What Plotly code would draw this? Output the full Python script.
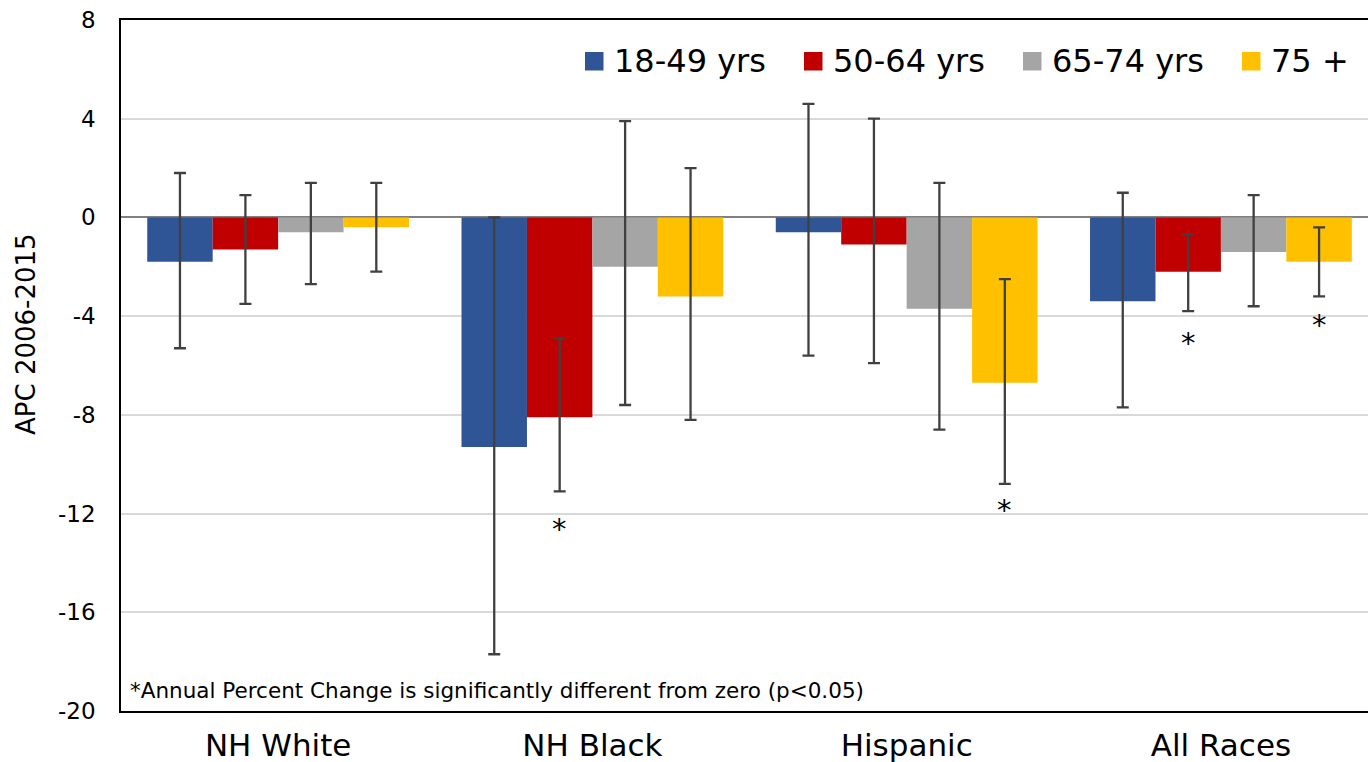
import plotly.graph_objects as go

# Annual percent change (APC) 2006-2015 by race/ethnicity and age group
groups = ["NH White", "NH Black", "Hispanic", "All Races"]
age_groups = ["18-49 yrs", "50-64 yrs", "65-74 yrs", "75 +"]

apc_18_49 = [-1.8, -9.3, -0.6, -3.4]
apc_50_64 = [-1.3, -8.1, -1.1, -2.2]
apc_65_74 = [-0.6, -2.0, -3.7, -1.4]
apc_75_up = [-0.4, -3.2, -6.7, -1.8]

# 95% confidence limits
lo_18_49 = [-5.3, -17.7, -5.6, -7.7]
hi_18_49 = [1.8, 0.0, 4.6, 1.0]
lo_50_64 = [-3.5, -11.1, -5.9, -3.8]
hi_50_64 = [0.9, -4.9, 4.0, -0.7]
lo_65_74 = [-2.7, -7.6, -8.6, -3.6]
hi_65_74 = [1.4, 3.9, 1.4, 0.9]
lo_75_up = [-2.2, -8.2, -10.8, -3.2]
hi_75_up = [1.4, 2.0, -2.5, -0.4]

# APC significantly different from zero (p<0.05)
sig_18_49 = [False, False, False, False]
sig_50_64 = [False, True, False, True]
sig_65_74 = [False, False, False, False]
sig_75_up = [False, False, True, True]

y_ticks = [8, 4, 0, -4, -8, -12, -16, -20]
footnote = "*Annual Percent Change is significantly different from zero (p<0.05)"

values = [apc_18_49, apc_50_64, apc_65_74, apc_75_up]
lows = [lo_18_49, lo_50_64, lo_65_74, lo_75_up]
highs = [hi_18_49, hi_50_64, hi_65_74, hi_75_up]
sigs = [sig_18_49, sig_50_64, sig_65_74, sig_75_up]
colors = ["#2F5597", "#C00000", "#A5A5A5", "#FFC000"]

FONT = "DejaVu Sans"
W, H = 1368, 762
ML, MR, MT, MB = 121, 0, 20, 51
BARGAP = 0.167
X_RANGE = [-0.5, 3.468]   # the plot area runs slightly past the right edge
plot_w = W - ML - MR
plot_h = H - MT - MB
cat_px = plot_w / (X_RANGE[1] - X_RANGE[0])
bar_px = cat_px * (1 - BARGAP) / len(age_groups)

fig = go.Figure()
for name, v, lo, hi, c in zip(age_groups, values, lows, highs, colors):
    fig.add_trace(go.Bar(
        name=name, x=groups, y=v, marker=dict(color=c, line=dict(width=0)),
        error_y=dict(
            type="data", symmetric=False,
            array=[h - y for h, y in zip(hi, v)],
            arrayminus=[y - l for y, l in zip(v, lo)],
            color="#404040", thickness=2.3, width=6,
        ),
        showlegend=False,
    ))

annotations = []
# asterisks under significant estimates (gap below lower limit, px)
star_gap = {(1, 1): 34, (2, 3): 22, (3, 1): 28, (3, 3): 25}
for si, (lo, sg) in enumerate(zip(lows, sigs)):
    for gi, flag in enumerate(sg):
        if flag:
            annotations.append(dict(
                x=groups[gi], y=lo[gi], xref="x", yref="y", text="*",
                showarrow=False, xanchor="center", yanchor="middle",
                xshift=(si - 1.5) * bar_px,
                yshift=-star_gap.get((gi, si), 27) - 4,
                font=dict(family=FONT, size=29, color="#000000"),
            ))

# legend row
def px_x(px):
    return (px - ML) / plot_w

def px_y(py):
    return (H - MB - py) / plot_h

shapes = []
leg_x0, leg_step, sq = 585, 219, 18.5
for i, (name, c) in enumerate(zip(age_groups, colors)):
    x0 = leg_x0 + i * leg_step
    shapes.append(dict(type="rect", xref="paper", yref="paper",
                       x0=px_x(x0), x1=px_x(x0 + sq),
                       y0=px_y(52), y1=px_y(52 + sq),
                       fillcolor=c, line=dict(width=0)))
    annotations.append(dict(x=px_x(x0 + sq + 8), y=px_y(61), xref="paper", yref="paper",
                            text=name, showarrow=False, xanchor="left", yanchor="middle",
                            font=dict(family=FONT, size=32, color="#000000")))

annotations.append(dict(x=px_x(26), y=px_y(334), xref="paper", yref="paper",
                        text="APC 2006-2015", textangle=-90, showarrow=False,
                        xanchor="center", yanchor="middle",
                        font=dict(family=FONT, size=26, color="#000000")))
annotations.append(dict(x=px_x(128), y=px_y(690), xref="paper", yref="paper",
                        text=footnote, showarrow=False, xanchor="left", yanchor="middle",
                        font=dict(family=FONT, size=21.5, color="#000000")))

fig.update_layout(
    width=W, height=H, margin=dict(l=ML, r=MR, t=MT, b=MB, pad=0),
    barmode="group", bargap=BARGAP, bargroupgap=0,
    plot_bgcolor="white", paper_bgcolor="white",
    font=dict(family=FONT, color="#000000"),
    annotations=annotations, shapes=shapes,
    xaxis=dict(range=X_RANGE, showline=True, linecolor="#000000", linewidth=1.5, mirror=True,
               showgrid=False, ticks="", tickfont=dict(size=31, color="#000000"),
               ticklabelstandoff=6),
    yaxis=dict(range=[-20, 8], tickvals=y_ticks, ticktext=[str(t) for t in y_ticks],
               showline=True, linecolor="#000000", linewidth=1.5,
               showgrid=True, gridcolor="#D9D9D9", gridwidth=1.5,
               zeroline=True, zerolinecolor="#808080", zerolinewidth=2,
               ticks="", tickfont=dict(size=23, color="#000000"),
               ticklabelstandoff=19),
)

fig.write_html("out.html")
